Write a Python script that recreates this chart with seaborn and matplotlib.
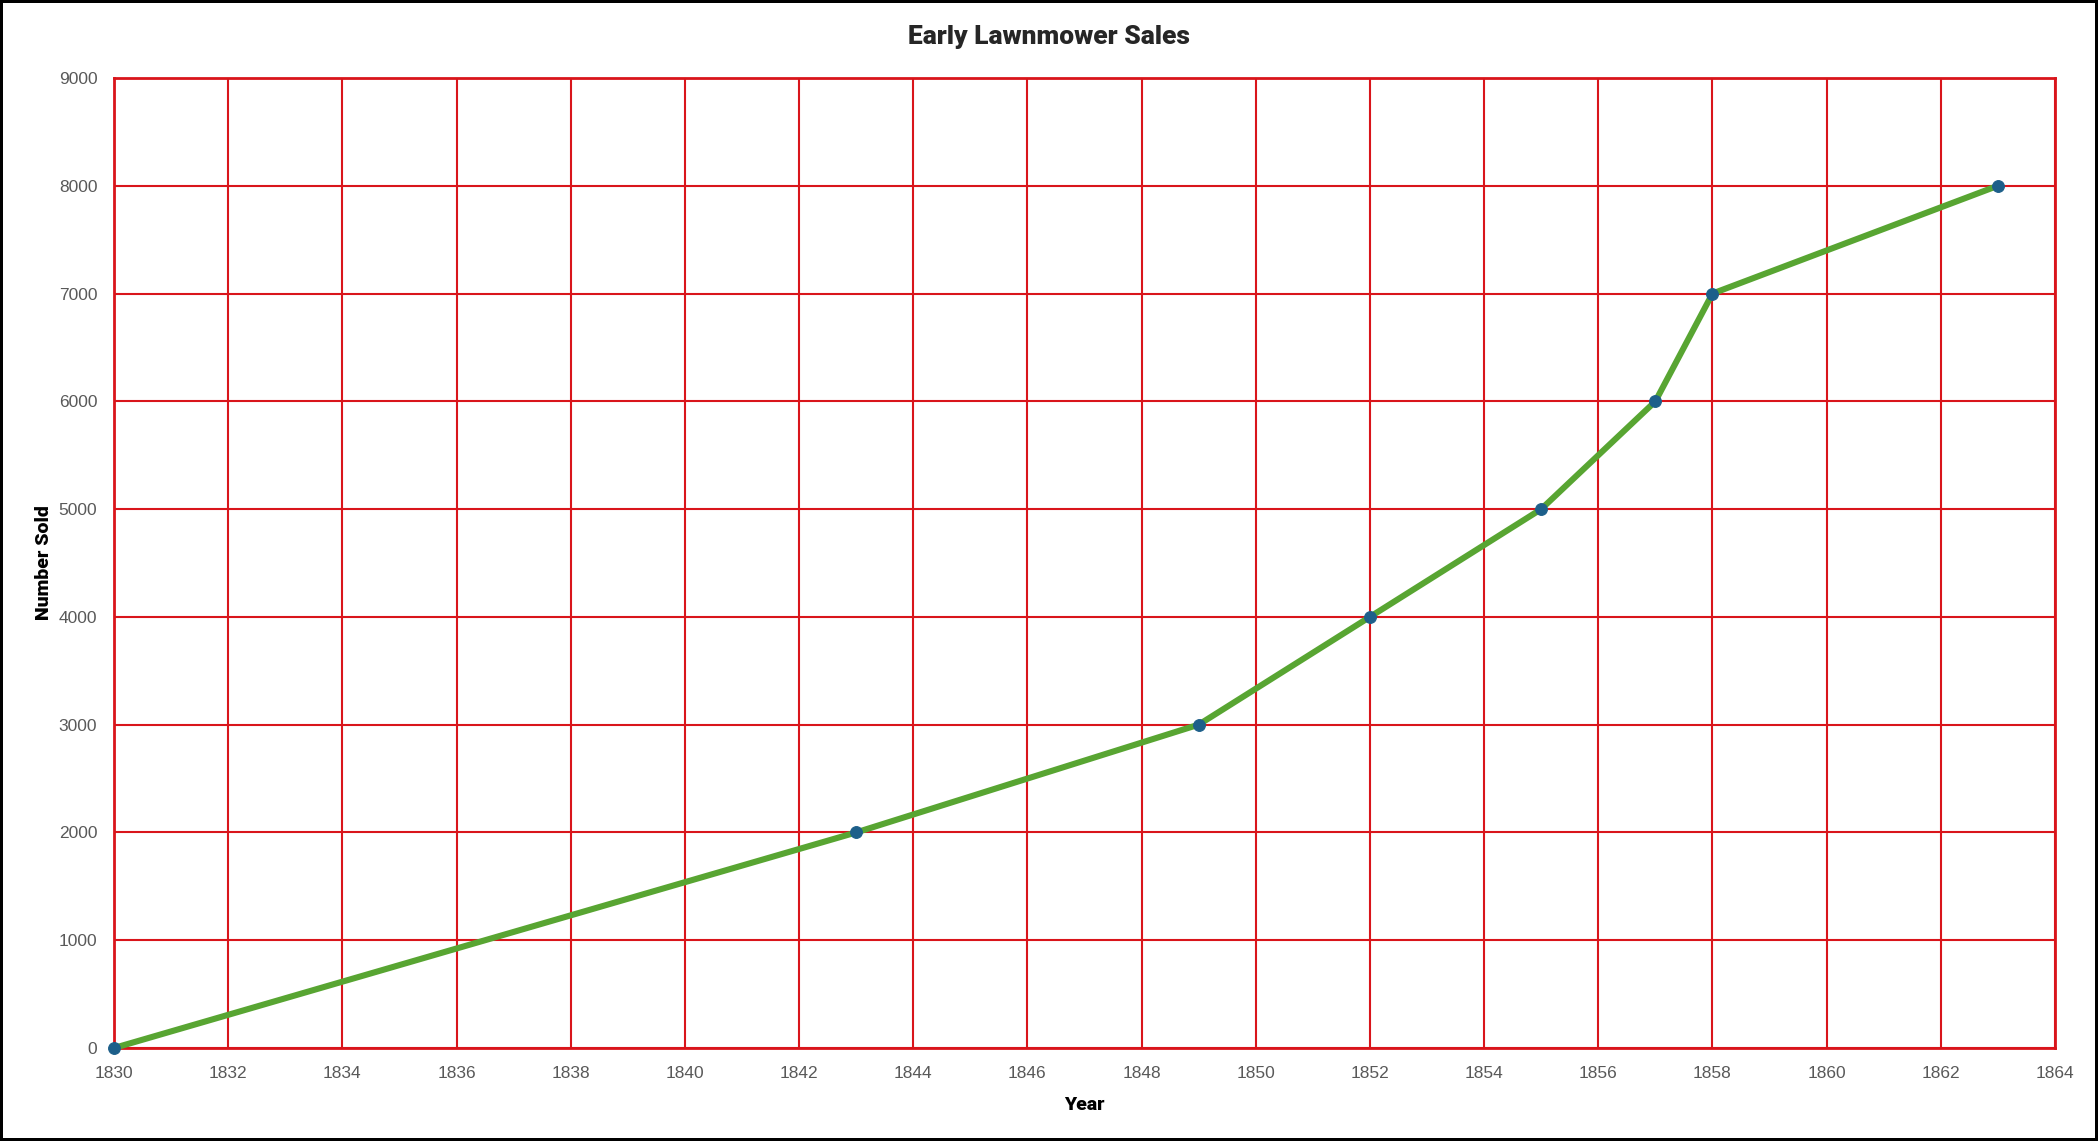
import matplotlib
matplotlib.use("Agg")
import matplotlib.pyplot as plt
import pandas as pd
import seaborn as sns

years = [1830, 1843, 1849, 1852, 1855, 1857, 1858, 1863]
sold = [0, 2000, 3000, 4000, 5000, 6000, 7000, 8000]
x_ticks = list(range(1830, 1865, 2))
y_ticks = list(range(0, 9001, 1000))

df = pd.DataFrame({"Year": years, "Number Sold": sold})

sns.set_theme(style="white")
plt.rcParams["font.family"] = ["Liberation Sans", "DejaVu Sans"]

RED = "#d9151b"
fig = plt.figure(figsize=(20.98, 11.41), dpi=100, facecolor="white",
                 edgecolor="black", linewidth=4)
ax = fig.add_axes([114 / 2098, 1 - 1048 / 1141, (2055 - 114) / 2098, (1048 - 78) / 1141])

sns.lineplot(data=df, x="Year", y="Number Sold", ax=ax, color="#58a532",
             linewidth=4.4, marker="o", markersize=8.5,
             markerfacecolor="#1d5f8a", markeredgecolor="#1d5f8a", zorder=3,
             clip_on=False)

ax.set_xlim(1830, 1864)
ax.set_ylim(0, 9000)
ax.set_xticks(x_ticks)
ax.set_yticks(y_ticks)
ax.grid(True, color=RED, linewidth=1.5)
ax.set_axisbelow(True)
for s in ax.spines.values():
    s.set_color(RED)
    s.set_linewidth(2)
    s.set_zorder(2)
ax.tick_params(axis="both", length=0, labelsize=12.5, labelcolor="#595959")
ax.tick_params(axis="x", pad=13)
ax.tick_params(axis="y", pad=12)

title_font = ["Roboto", "DejaVu Sans"]
ax.set_xlabel("Year", fontsize=14, fontweight="black", family=title_font,
              color="black", labelpad=11)
ax.set_ylabel("Number Sold", fontsize=14, fontweight="black", family=title_font,
              color="black", labelpad=4)
fig.text(0.5, 1 - 37 / 1141, "Early Lawnmower Sales", ha="center", va="center",
         fontsize=19, fontweight="black", family=title_font)

fig.savefig("out.png", dpi=100, facecolor="white", edgecolor=fig.get_edgecolor())
